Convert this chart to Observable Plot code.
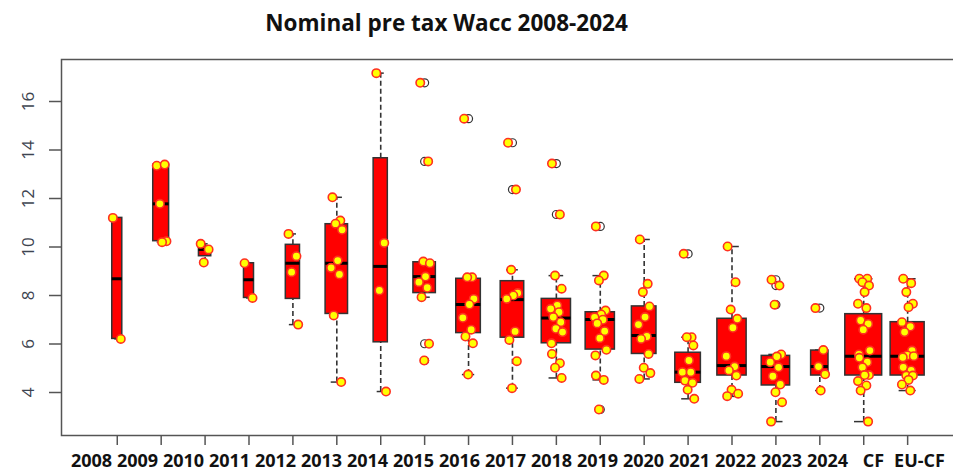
<!DOCTYPE html>
<html><head><meta charset="utf-8">
<script src="https://cdn.jsdelivr.net/npm/d3@7"></script>
<script src="https://cdn.jsdelivr.net/npm/@observablehq/plot@0.6"></script>
<style>
body{margin:0;background:#fff;}
svg{display:block}
#title{box-sizing:border-box;height:40px;width:893px;padding-top:10px;text-align:center;font:bold 22.5px "Open Sans";line-height:26px;color:#111}
</style></head><body>
<div id="title">Nominal pre tax Wacc 2008-2024</div>
<div id="chart"></div>
<script>
const categories = ["2008","2009","2010","2011","2012","2013","2014","2015","2016","2017","2018","2019","2020","2021","2022","2023","2024","CF","EU-CF"];
const q1 =          [6.21, 10.24, 9.62, 7.90, 7.86, 7.24, 6.07, 8.10, 6.45, 6.26, 6.03, 5.77, 5.59, 4.40, 4.70, 4.29, 4.70, 4.70, 4.70];
const medians =     [8.69, 11.78, 9.90, 8.65, 9.33, 9.33, 9.20, 8.78, 7.63, 7.83, 7.07, 7.01, 6.35, 4.84, 5.11, 5.07, 5.07, 5.50, 5.50];
const q3 =          [11.20,13.39,10.00, 9.33,10.09,10.94,13.66, 9.37, 8.69, 8.59, 7.86, 7.31, 7.55, 5.64, 7.04, 5.51, 5.73, 7.23, 6.90];
const whiskerLow =  [6.21, 10.20, 9.36, 7.90, 6.80, 4.43, 4.04, 7.93, 4.74, 4.18, 4.60, 4.52, 4.56, 3.74, 3.84, 2.80, 4.08, 2.80, 4.08];
const whiskerHigh = [11.20,13.40,10.13, 9.33,10.54,12.05,17.17, 9.40, 8.75, 9.06, 8.82, 8.82,10.31, 6.28,10.02, 5.57, 5.75, 8.69, 8.69];
const sampleSizes = [2, 5, 3, 2, 4, 10, 4, 10, 12, 11, 17, 17, 12, 13, 17, 16, 6, 27, 23];
const pointValues = [
  [11.20, 6.21],
  [13.35, 13.40, 11.78, 10.24, 10.20],
  [10.13, 9.90, 9.36],
  [9.33, 7.90],
  [10.54, 9.62, 8.96, 6.80],
  [12.05, 11.09, 10.96, 10.71, 9.44, 9.14, 8.87, 7.18, 4.43],
  [17.17, 10.17, 8.21, 4.04],
  [16.77, 13.53, 9.40, 9.33, 8.78, 8.55, 8.32, 7.93, 6.01, 5.32],
  [15.29, 8.75, 8.75, 7.86, 7.63, 7.08, 6.59, 6.31, 6.03, 4.74],
  [14.30, 12.37, 9.06, 8.10, 8.00, 7.86, 6.52, 6.17, 5.29, 4.18],
  [13.44, 11.34, 8.82, 8.28, 7.59, 7.45, 7.31, 7.11, 6.90, 6.63, 6.49, 6.03, 5.59, 5.21, 5.02, 4.60],
  [10.85, 8.82, 8.62, 7.38, 7.22, 7.10, 7.00, 6.85, 6.53, 6.24, 5.76, 5.53, 4.70, 4.52, 3.30],
  [10.31, 8.48, 8.14, 7.55, 7.11, 6.80, 6.31, 6.21, 5.59, 5.02, 4.80, 4.56],
  [9.72, 6.28, 6.28, 5.94, 5.32, 4.84, 4.84, 4.49, 4.40, 4.11, 3.74],
  [10.02, 8.55, 7.42, 7.04, 6.67, 5.50, 5.07, 4.91, 4.70, 4.11, 3.95, 3.85],
  [8.65, 8.41, 7.62, 5.57, 5.48, 5.25, 5.04, 4.67, 4.33, 4.01, 3.60, 2.80],
  [7.48, 5.75, 5.07, 4.75, 4.08],
  [8.69, 8.69, 8.55, 8.41, 8.14, 7.66, 7.48, 6.97, 6.83, 6.59, 5.73, 5.57, 5.43, 5.25, 5.04, 4.72, 4.72, 4.47, 4.29, 4.08, 2.80],
  [8.69, 8.51, 8.14, 7.66, 7.52, 6.90, 6.72, 6.49, 5.73, 5.53, 5.50, 5.45, 5.04, 4.91, 4.70, 4.70, 4.52, 4.33, 4.08]
];
const outlierValues = [
  [], [], [], [], [], [], [],
  [16.77, 13.53, 6.01, 5.32],
  [15.29],
  [14.30, 12.37],
  [13.44, 11.34],
  [10.85, 3.30],
  [],
  [9.72],
  [],
  [8.65, 8.41, 7.62],
  [7.48],
  [], []
];
const yTicks = [4, 6, 8, 10, 12, 14, 16];

// layout helpers (not data)
const jitter = [-0.10, 0.08, -0.03, 0.12, 0.02, -0.13, 0.06, -0.07, 0.10, -0.01, 0.14, -0.11];
const halfWidth = n => 0.0808 * Math.sqrt(n);

const boxes = categories.map((c, i) => ({
  c, x: i + 1, hw: halfWidth(sampleSizes[i]),
  q1: q1[i], med: medians[i], q3: q3[i], lo: whiskerLow[i], hi: whiskerHigh[i]
}));
const pts = pointValues.flatMap((vals, i) => vals.map((v, j) => ({x: i + 1 + jitter[j % jitter.length], v})));
const outs = outlierValues.flatMap((vals, i) => vals.map(v => ({x: i + 1, v})));

const whisker = {stroke: "#333", strokeWidth: 1.6, strokeDasharray: "5,3"};
const main = Plot.plot({
  width: 953, height: 410,
  marginLeft: 61, marginRight: -2, marginTop: 19, marginBottom: 15,
  style: {fontFamily: "Open Sans", background: "#fff"},
  x: {type: "linear", domain: [-0.27, 20.09]},
  y: {domain: [2.227, 17.732]},
  marks: [
    Plot.ruleX(boxes, {x: "x", y1: "q3", y2: "hi", ...whisker}),
    Plot.ruleX(boxes, {x: "x", y1: "lo", y2: "q1", ...whisker}),
    Plot.ruleY(boxes, {y: "hi", x1: d => d.x - d.hw / 2, x2: d => d.x + d.hw / 2, stroke: "#333", strokeWidth: 1.5}),
    Plot.ruleY(boxes, {y: "lo", x1: d => d.x - d.hw / 2, x2: d => d.x + d.hw / 2, stroke: "#333", strokeWidth: 1.5}),
    Plot.rect(boxes, {x1: d => d.x - d.hw, x2: d => d.x + d.hw, y1: "q1", y2: "q3", fill: "#ff0000", stroke: "#333", strokeWidth: 1.5}),
    Plot.ruleY(boxes, {y: "med", x1: d => d.x - d.hw, x2: d => d.x + d.hw, stroke: "#000", strokeWidth: 3}),
    Plot.dot(outs, {x: "x", y: "v", r: 4, stroke: "#333", fill: "none", strokeWidth: 1.2}),
    Plot.dot(pts, {x: "x", y: "v", r: 4.2, fill: "#ffff00", stroke: "#ff3020", strokeWidth: 1.6}),
    Plot.frame({stroke: "#555", strokeWidth: 1.5}),
    Plot.axisY({ticks: yTicks, tickSize: 12, tickPadding: 16, tickRotate: -90, fontSize: 17, fill: "#3d4450", stroke: "#555", strokeWidth: 1.5, label: null}),
    Plot.axisX({ticks: boxes.map(d => d.x), tickSize: 10, tickFormat: () => "", stroke: "#555", strokeWidth: 1.5, label: null})
  ]
});
const labels = Plot.plot({
  width: 953, height: 22,
  marginLeft: 87.5, marginRight: 30.5, marginTop: 0, marginBottom: 22,
  style: {fontFamily: "Open Sans", background: "#fff", overflow: "visible"},
  x: {type: "point", domain: categories, padding: 0},
  marks: [
    Plot.axisX({tickSize: 0, tickPadding: 4, fontSize: 18, fontWeight: "bold", fill: "#111", label: null})
  ]
});
document.getElementById("chart").append(main, labels);
</script>
</body></html>
